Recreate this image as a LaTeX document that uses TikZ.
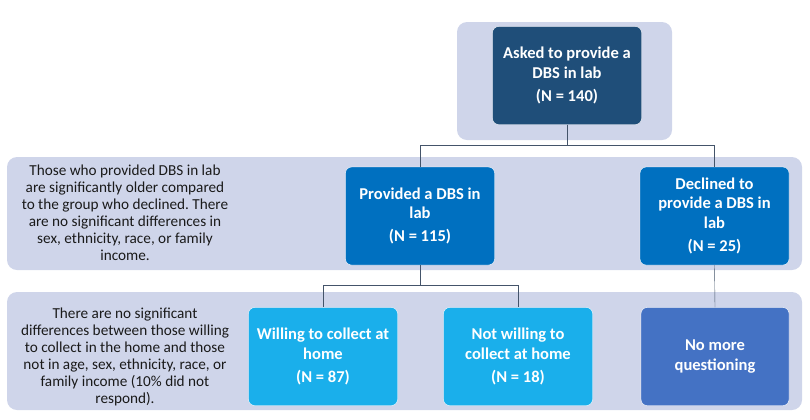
\documentclass[tikz,border=0pt]{standalone}
\usepackage{fontspec}
\setmainfont{Carlito}
\usepackage{xcolor}
\definecolor{bandColor}{HTML}{CFD5EA}
\definecolor{nodeColorA}{HTML}{1F4E79}
\definecolor{nodeColorB}{HTML}{0070C0}
\definecolor{nodeColorC}{HTML}{1AAFEB}
\definecolor{nodeColorD}{HTML}{4472C4}
\definecolor{linkColor}{HTML}{44546A}
\definecolor{noteTextColor}{HTML}{1A1A1A}
\frenchspacing
\tikzset{
  band/.style={fill=bandColor, rounded corners=10bp},
  box/.style={rectangle, rounded corners=6bp, draw=white, thin, text=white,
    align=center, inner sep=2bp, minimum width=149bp, minimum height=98bp,
    font=\fontsize{16.6}{19.5}\selectfont\bfseries},
  note/.style={align=center, text=noteTextColor, inner sep=0pt,
    font=\fontsize{15.3}{17}\selectfont},
  link/.style={color=linkColor, thin}
}

\begin{document}
\begin{tikzpicture}[x=1bp,y=-1bp]
\useasboundingbox (0, 0) rectangle (810, 419);

% band layer
\begin{scope}
\fill[band] (457, 22) rectangle (672, 140);
\fill[band] (7, 157) rectangle (802, 270);
\fill[band] (7, 292) rectangle (802, 410);
\end{scope}

% node layer
\begin{scope}
\node[box, fill=nodeColorA] (asked) at (567, 75.5)
{Asked to provide a\\DBS in lab\\[4bp](N = 140)};
\node[box, fill=nodeColorB] (provided) at (420, 216)
{Provided a DBS in\\lab\\[4bp](N = 115)};
\node[box, fill=nodeColorB] (declined) at (714.5, 216)
{Declined to\\provide a DBS in\\lab\\[4bp](N = 25)};
\node[box, fill=nodeColorC] (willing) at (323, 356.5)
{Willing to collect at\\home\\[4bp](N = 87)};
\node[box, fill=nodeColorC] (notwilling) at (518, 356.5)
{Not willing to\\collect at home\\[4bp](N = 18)};
\node[box, fill=nodeColorD, minimum width=148bp] (nomore) at (715, 356.5)
{No more\\questioning};
\end{scope}

% note layer
\begin{scope}
\node[note] (noteage) at (125, 213)
{Those who provided DBS in lab\\are significantly older compared\\to the group who declined. There\\are no significant differences in\\sex, ethnicity, race, or family\\income.};
\node[note] (notehome) at (125, 357)
{There are no significant\\differences between those willing\\to collect in the home and those\\not in age, sex, ethnicity, race, or\\family income (10\% did not\\respond).};
\end{scope}

% link layer
\begin{scope}
\draw[link] (asked.south) -- ++(0, 20) -| (provided.north);
\draw[link] (asked.south) -- ++(0, 20) -| (declined.north);
\draw[link] (provided.south) -- ++(0, 20) -| (willing.north);
\draw[link] (provided.south) -- ++(0, 20) -| (notwilling.north);
\draw[link] (declined.south) -- (nomore.north);
\end{scope}

\end{tikzpicture}
\end{document}
